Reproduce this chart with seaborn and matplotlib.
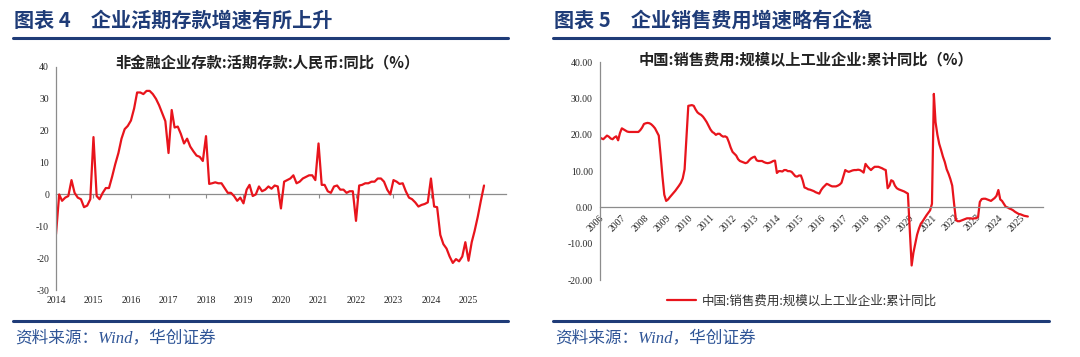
import matplotlib
matplotlib.use("Agg")
import matplotlib.pyplot as plt
import matplotlib.dates as mdates
import pandas as pd
import seaborn as sns
from matplotlib.lines import Line2D

# ---- 图表4 非金融企业存款:活期存款:人民币:同比 (%), 2014-01 ~ 2025-06 ----
dep_2014 = [-12.5, 0, -2, -1, -0.5, 4.5, 0.5, -1, -1.5, -4, -3.5, -1.5]
dep_2015 = [18, -0.5, -1.5, 0.5, 2, 2, 5.5, 9.5, 13, 17.5, 20.5, 21.5]
dep_2016 = [23.2, 27, 32, 32, 31.5, 32.5, 32.5, 31.5, 30, 28, 25.5, 23]
dep_2017 = [13, 26.5, 21, 21.3, 19, 16, 17.5, 15, 13.5, 12.2, 11.8, 10.5]
dep_2018 = [18.3, 3.3, 3.5, 3.8, 3.5, 3.5, 2, 0.5, 0.5, -0.5, -2, -1]
dep_2019 = [-2.8, 1.5, 3, -0.5, 0, 2.5, 1, 1.5, 2.5, 1.8, 2.8, 2.5]
dep_2020 = [-4.4, 4, 4.5, 5, 6, 3.5, 4, 5, 5.5, 6, 6, 4.5]
dep_2021 = [16, 3, 3, 1, 0.5, 2.5, 2.8, 1.5, 1.5, 0.5, 1, 1]
dep_2022 = [-8.3, 2.8, 3, 3.5, 3.5, 4, 4, 5, 5, 4, 1.5, 0]
dep_2023 = [4.5, 4, 3.3, 3.5, 1, -1, -1.5, -2.5, -3.8, -3.3, -3, -2.5]
dep_2024 = [5, -3.8, -4, -12.7, -15.6, -17, -19.5, -21.5, -20.3, -21, -19.5, -15]
dep_2025 = [-20.8, -15, -11.5, -7, -2, 2.8]
deposit_yoy = (dep_2014 + dep_2015 + dep_2016 + dep_2017 + dep_2018 + dep_2019
               + dep_2020 + dep_2021 + dep_2022 + dep_2023 + dep_2024 + dep_2025)
left_years = ["2014", "2015", "2016", "2017", "2018", "2019",
              "2020", "2021", "2022", "2023", "2024", "2025"]
left_yticks = [-30, -20, -10, 0, 10, 20, 30, 40]

# ---- 图表5 中国:销售费用:规模以上工业企业:累计同比 (%), 2006-01 ~ 2025-05 ----
s_2006 = [19.3, 19.0, 18.8, 19.3, 19.8, 19.5, 19.0, 18.8, 19.3, 19.6, 18.5, 20.5]
s_2007 = [21.8, 21.5, 21.2, 20.9, 20.8, 20.8, 20.8, 20.8, 20.8, 20.8, 21.3, 22.0]
s_2008 = [23.0, 23.2, 23.3, 23.2, 22.9, 22.4, 21.8, 20.8, 19.8, 14.5, 8.5, 3.5]
s_2009 = [1.8, 2.2, 2.8, 3.4, 4.0, 4.6, 5.3, 6.0, 6.8, 8.0, 10.5, 19.0]
s_2010 = [28.0, 28.1, 28.2, 28.0, 27.0, 26.2, 25.8, 25.5, 25.0, 24.3, 23.5, 22.5]
s_2011 = [21.5, 20.8, 20.5, 20.0, 20.3, 20.3, 19.8, 19.5, 19.6, 19.3, 18.0, 16.5]
s_2012 = [15.3, 14.8, 14.3, 13.3, 12.8, 12.6, 12.4, 12.2, 12.4, 13.0, 13.5, 13.8]
s_2013 = [14.0, 13.0, 12.8, 12.8, 12.8, 12.5, 12.3, 12.2, 12.3, 12.5, 12.8, 12.9]
s_2014 = [9.5, 10.0, 10.0, 9.9, 10.3, 10.3, 10.0, 10.0, 9.8, 9.2, 8.6, 8.5]
s_2015 = [8.8, 8.8, 7.5, 5.5, 5.3, 5.0, 4.9, 4.7, 4.5, 4.2, 4.0, 3.8]
s_2016 = [4.8, 5.5, 6.0, 6.5, 6.3, 6.0, 5.8, 5.8, 5.8, 6.0, 6.3, 6.8]
s_2017 = [8.5, 10.3, 10.0, 9.8, 10.0, 10.2, 10.3, 10.3, 10.4, 10.3, 10.0, 9.6]
s_2018 = [12.0, 11.3, 10.8, 10.3, 10.8, 11.2, 11.2, 11.2, 11.0, 10.8, 10.5, 10.3]
s_2019 = [5.3, 6.0, 7.5, 7.2, 6.0, 5.3, 5.0, 4.8, 4.6, 4.4, 4.1, 3.8]
s_2020 = [-6.0, -16.0, -12.5, -10.0, -7.5, -5.8, -4.5, -3.8, -3.0, -2.2, -1.5, -0.8]
s_2021 = [1.0, 31.3, 23.5, 20.0, 17.5, 15.8, 14.0, 12.5, 10.5, 9.3, 7.8, 6.0]
s_2022 = [1.0, -3.5, -3.8, -3.8, -3.6, -3.4, -3.2, -3.0, -3.0, -3.0, -3.1, -3.0]
s_2023 = [-3.0, -2.6, 1.5, 2.3, 2.4, 2.4, 2.2, 2.0, 1.8, 2.2, 2.6, 3.2]
s_2024 = [4.8, 2.2, 1.8, 1.0, 0.2, 0.0, -0.3, -0.5, -0.8, -1.2, -1.5, -1.8]
s_2025 = [-1.9, -2.1, -2.3, -2.4, -2.5]
sales_yoy = (s_2006 + s_2007 + s_2008 + s_2009 + s_2010 + s_2011 + s_2012
             + s_2013 + s_2014 + s_2015 + s_2016 + s_2017 + s_2018 + s_2019
             + s_2020 + s_2021 + s_2022 + s_2023 + s_2024 + s_2025)
right_years = ["2006", "2007", "2008", "2009", "2010", "2011", "2012", "2013",
               "2014", "2015", "2016", "2017", "2018", "2019", "2020", "2021",
               "2022", "2023", "2024", "2025"]
right_yticks = [-20, -10, 0, 10, 20, 30, 40]

left_df = pd.DataFrame({
    "date": pd.date_range("2014-01-01", periods=len(deposit_yoy), freq="MS"),
    "value": deposit_yoy})
right_df = pd.DataFrame({
    "date": pd.date_range("2006-01-01", periods=len(sales_yoy), freq="MS"),
    "value": sales_yoy})

sns.set_theme(style="white")
cjk = ["Noto Sans CJK SC", "DejaVu Sans"]
plt.rcParams["font.family"] = cjk
serif = ["Liberation Serif", "DejaVu Serif"]

RED = "#E8141C"
NAVY = "#1F3C78"
GREY = "#8C8C8C"

fig = plt.figure(figsize=(10.8, 3.57), dpi=100)

# ---------- left chart ----------
axl = fig.add_axes([56 / 1080, 1 - 290 / 357, 450 / 1080, 223 / 357])
sns.lineplot(data=left_df, x="date", y="value", ax=axl, color=RED, lw=1.6)
for s in ["top", "right", "bottom"]:
    axl.spines[s].set_visible(False)
axl.spines["left"].set_color(GREY)
axl.spines["left"].set_linewidth(0.9)
axl.tick_params(axis="x", length=0, pad=4)
axl.tick_params(axis="y", length=3, width=0.8, color=GREY, direction="out", pad=2)
axl.set_ylim(-30, 40)
axl.set_yticks(left_yticks)
axl.set_yticklabels([str(v) for v in left_yticks], family=serif, fontsize=7)
lticks = [mdates.date2num(pd.Timestamp(y + "-01-01")) for y in left_years]
axl.set_xlim(mdates.date2num(pd.Timestamp("2014-01-01")),
             mdates.date2num(pd.Timestamp("2026-01-01")))
axl.set_xticks(lticks)
axl.set_xticklabels(left_years, family=serif, fontsize=7)
axl.set_xlabel("")
axl.set_ylabel("")
zero_loc = (0 - (-30)) / (40 - (-30))
sec = axl.secondary_xaxis(zero_loc)
sec.spines["bottom"].set_color(GREY)
sec.spines["bottom"].set_linewidth(0.9)
sec.tick_params(axis="x", length=3, width=0.8, color=GREY, direction="out")
sec.set_xticks(lticks)
sec.set_xticklabels([""] * len(lticks))
fig.text(267 / 1080, 1 - 62 / 357, "非金融企业存款:活期存款:人民币:同比（%）",
         ha="center", va="center", fontsize=11, fontweight="bold", color="#222222")

# ---------- right chart ----------
axr = fig.add_axes([599.7 / 1080, 1 - 280 / 357, 443 / 1080, 217.7 / 357])
sns.lineplot(data=right_df, x="date", y="value", ax=axr, color=RED, lw=1.6,
             label="中国:销售费用:规模以上工业企业:累计同比", legend=False)
for s in ["top", "right"]:
    axr.spines[s].set_visible(False)
axr.spines["bottom"].set_position(("data", 0))
for s in ["left", "bottom"]:
    axr.spines[s].set_color(GREY)
    axr.spines[s].set_linewidth(0.9)
axr.tick_params(axis="x", length=3, width=0.8, color=GREY, direction="out", pad=1)
axr.tick_params(axis="y", length=3, width=0.8, color=GREY, direction="out", pad=2)
axr.set_ylim(-20, 40)
axr.set_yticks(right_yticks)
axr.set_yticklabels(["%.2f" % v for v in right_yticks], family=serif, fontsize=7)
rticks = [mdates.date2num(pd.Timestamp(y + "-01-01")) for y in right_years]
axr.set_xlim(mdates.date2num(pd.Timestamp("2006-01-01")),
             mdates.date2num(pd.Timestamp("2026-01-01")))
axr.set_xticks(rticks)
axr.set_xticklabels(right_years, family=serif, fontsize=7, rotation=45,
                    ha="right", va="top", rotation_mode="anchor")
axr.set_xlabel("")
axr.set_ylabel("")
fig.text(806 / 1080, 1 - 59 / 357, "中国:销售费用:规模以上工业企业:累计同比（%）",
         ha="center", va="center", fontsize=11, fontweight="bold", color="#222222")
h, l = axr.get_legend_handles_labels()
fig.legend(h, l, loc="center", bbox_to_anchor=(802 / 1080, 1 - 301 / 357),
           frameon=False, fontsize=9, handlelength=2.3, handletextpad=0.5,
           labelcolor="#333333")

# ---------- headers / footers ----------
for x0, x1, title in [(13, 508, "图表 4　企业活期存款增速有所上升"),
                      (553, 1049, "图表 5　企业销售费用增速略有企稳")]:
    fig.text(x0 / 1080 + 0.001, 1 - 20 / 357, title, ha="left", va="center",
             fontsize=14.5, fontweight="bold", color=NAVY)
    fig.add_artist(Line2D([x0 / 1080, x1 / 1080], [1 - 38 / 357] * 2,
                          color=NAVY, lw=2.2))
    fig.add_artist(Line2D([x0 / 1080, x1 / 1080], [1 - 321 / 357] * 2,
                          color=NAVY, lw=2.2))
    fig.text(x0 / 1080 + 0.002, 1 - 338 / 357, "资料来源：Wind，华创证券",
             ha="left", va="center", fontsize=12, style="italic",
             family=["Liberation Serif", "Noto Sans CJK SC"], color="#2F5597")

fig.savefig("out.png", dpi=100)
